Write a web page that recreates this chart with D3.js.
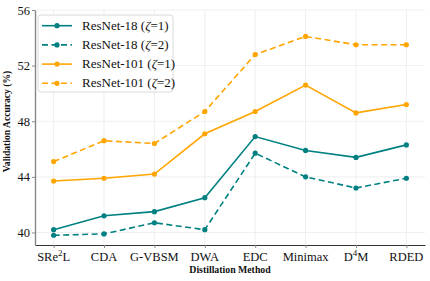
<!DOCTYPE html>
<html><head><meta charset="utf-8">
<script src="https://cdn.jsdelivr.net/npm/d3@7"></script>
<style>body{margin:0;background:#fff}svg{display:block}</style>
</head><body>
<svg id="c" width="430" height="281"></svg>
<script>
const categories = ["SRe2L","CDA","G-VBSM","DWA","EDC","Minimax","D4M","RDED"];
const r18z1  = [40.2, 41.2, 41.5, 42.5, 46.9, 45.9, 45.4, 46.3];
const r18z2  = [39.8, 39.9, 40.7, 40.2, 45.7, 44.0, 43.2, 43.9];
const r101z1 = [43.7, 43.9, 44.2, 47.1, 48.7, 50.6, 48.6, 49.2];
const r101z2 = [45.1, 46.6, 46.4, 48.7, 52.8, 54.1, 53.5, 53.5];
const yTicks = [40, 44, 48, 52, 56];
const seriesModels = ["ResNet-18","ResNet-18","ResNet-101","ResNet-101"];
const seriesZeta = [1, 2, 1, 2];

const series = [
  {model: seriesModels[0], z: seriesZeta[0], values: r18z1, color: "#008080", dash: null},
  {model: seriesModels[1], z: seriesZeta[1], values: r18z2, color: "#008080", dash: "6,3.5"},
  {model: seriesModels[2], z: seriesZeta[2], values: r101z1, color: "#FFA500", dash: null},
  {model: seriesModels[3], z: seriesZeta[3], values: r101z2, color: "#FFA500", dash: "6,3.5"}
];

const svg = d3.select("#c");
const L = 35, R = 425, T = 10, B = 245;
const font = "'Liberation Serif', 'Times New Roman', serif";

const x = d3.scalePoint().domain(categories).range([L, R]).padding(0.37);
const y = d3.scaleLinear().domain([39.1, 56]).range([B, T]);

// grid
const g = svg.append("g");
g.selectAll(".gx").data(categories).enter().append("line")
  .attr("x1", d => x(d)).attr("x2", d => x(d)).attr("y1", T).attr("y2", B)
  .attr("stroke", "#ebebeb").attr("stroke-width", 0.8);
g.selectAll(".gy").data(yTicks).enter().append("line")
  .attr("x1", L).attr("x2", R).attr("y1", d => y(d)).attr("y2", d => y(d))
  .attr("stroke", "#ebebeb").attr("stroke-width", 0.8);

// axes
const xAxis = svg.append("g").attr("transform", `translate(0,${B})`)
  .call(d3.axisBottom(x).tickSize(3).tickSizeOuter(0).tickFormat(() => ""));
xAxis.select(".domain").attr("stroke", "#333").attr("stroke-width", 1.2);
xAxis.selectAll(".tick line").attr("stroke", "#888");

const yAxis = svg.append("g").attr("transform", `translate(${L},0)`)
  .call(d3.axisLeft(y).tickValues(yTicks).tickSize(3).tickSizeOuter(0));
yAxis.select(".domain").attr("stroke", "#888").attr("stroke-width", 1.4);
yAxis.selectAll(".tick line").attr("stroke", "#888");
yAxis.selectAll(".tick text").attr("font-family", font).attr("font-size", 12.5).attr("fill", "#111").attr("x", -5);

// x tick labels with superscripts
const lab = svg.append("g");
categories.forEach(c => {
  const t = lab.append("text").attr("x", x(c)).attr("y", B + 16)
    .attr("text-anchor", "middle").attr("font-family", font).attr("font-size", 12.5).attr("fill", "#111");
  if (c === "SRe2L") {
    t.append("tspan").text("SRe");
    t.append("tspan").text("2").attr("font-size", 9).attr("dy", -5);
    t.append("tspan").text("L").attr("dy", 5);
  } else if (c === "D4M") {
    t.append("tspan").text("D");
    t.append("tspan").text("4").attr("font-size", 9).attr("dy", -5);
    t.append("tspan").text("M").attr("dy", 5);
  } else t.text(c);
});

svg.append("text").attr("x", (L + R) / 2).attr("y", 273).attr("text-anchor", "middle")
  .attr("font-family", font).attr("font-weight", "bold").attr("font-size", 9.8).attr("fill", "#111")
  .text("Distillation Method");
svg.append("text").attr("transform", `translate(10,${(T + B) / 2 - 6}) rotate(-90)`).attr("text-anchor", "middle")
  .attr("font-family", font).attr("font-weight", "bold").attr("font-size", 9.6).attr("fill", "#111")
  .text("Validation Accuracy (%)");

// lines
const line = d3.line().x((d, i) => x(categories[i])).y(d => y(d));
series.forEach(s => {
  svg.append("path").datum(s.values).attr("d", line).attr("fill", "none")
    .attr("stroke", s.color).attr("stroke-width", 1.6)
    .attr("stroke-dasharray", s.dash);
  svg.selectAll(null).data(s.values).enter().append("circle")
    .attr("cx", (d, i) => x(categories[i])).attr("cy", d => y(d)).attr("r", 2.6).attr("fill", s.color);
});

// legend
const lg = svg.append("g");
lg.append("rect").attr("x", 38).attr("y", 15).attr("width", 135).attr("height", 77).attr("rx", 3)
  .attr("fill", "#fff").attr("fill-opacity", 0.85).attr("stroke", "#d0d0d0").attr("stroke-width", 0.8);
series.forEach((s, i) => {
  const yy = 25.7 + i * 19.2;
  lg.append("line").attr("x1", 42).attr("x2", 72).attr("y1", yy).attr("y2", yy)
    .attr("stroke", s.color).attr("stroke-width", 1.6).attr("stroke-dasharray", s.dash);
  lg.append("circle").attr("cx", 57).attr("cy", yy).attr("r", 2.6).attr("fill", s.color);
  const t = lg.append("text").attr("x", 82).attr("y", yy + 4).attr("font-family", font).attr("font-size", 13)
    .attr("fill", "#111");
  t.append("tspan").text(s.model + " (");
  t.append("tspan").attr("font-style", "italic").text("\u03B6");
  t.append("tspan").text("=" + s.z + ")");
});
</script>
</body></html>
